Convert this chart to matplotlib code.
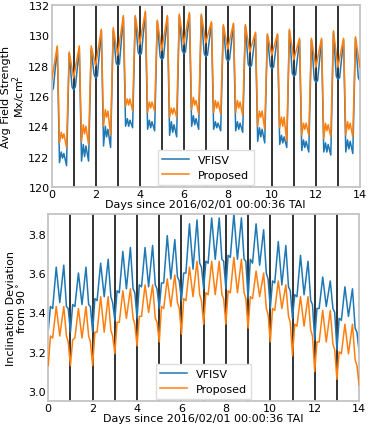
import matplotlib
matplotlib.use('Agg')
import matplotlib.pyplot as plt

# within-day sample phases (fraction of a day) for the values below
field_phase_vf = [0.0, 0.08, 0.26, 0.36, 0.44, 0.50, 0.56, 0.68, 0.80, 0.93]
field_phase_pr = [0.0, 0.26, 0.36, 0.44, 0.50, 0.56, 0.68, 0.80]
incl_phase = [0.0, 0.10, 0.20, 0.36, 0.52, 0.70, 0.82, 0.90]

# avg field strength, one row per day
field_vfisv = [
    [126.3, 126.5, 129.2, 121.6, 122.3, 121.9, 122.2, 121.4, 128.8, 126.6],
    [126.4, 126.6, 129.1, 121.7, 122.8, 122.0, 122.7, 121.7, 129.1, 127.4],
    [127.2, 127.3, 130.3, 122.7, 124.0, 123.3, 123.8, 122.6, 130.3, 128.2],
    [128.0, 128.1, 131.2, 124.0, 124.5, 124.0, 124.4, 123.9, 131.2, 128.9],
    [128.7, 128.8, 131.5, 123.8, 124.4, 123.9, 124.3, 123.7, 130.9, 128.6],
    [128.4, 128.5, 131.2, 123.4, 124.3, 123.6, 124.1, 123.3, 131.3, 129.0],
    [128.8, 128.9, 131.4, 124.0, 124.7, 124.1, 124.5, 123.8, 131.3, 128.8],
    [128.6, 128.7, 130.8, 123.8, 124.3, 123.9, 124.2, 123.7, 130.6, 128.5],
    [128.3, 128.4, 130.7, 123.7, 124.3, 123.8, 124.2, 123.6, 130.6, 128.1],
    [127.9, 128.0, 130.1, 123.0, 123.9, 123.3, 123.8, 122.9, 130.0, 128.0],
    [127.8, 127.9, 130.0, 122.8, 123.4, 122.9, 123.3, 122.6, 130.3, 127.5],
    [127.3, 127.4, 129.7, 122.4, 123.1, 122.6, 123.0, 122.3, 129.7, 127.1],
    [126.9, 127.0, 129.7, 122.3, 122.9, 122.3, 122.8, 122.1, 130.2, 127.3],
    [127.1, 127.2, 129.7, 122.3, 123.1, 122.5, 123.0, 122.2, 129.8, 127.2],
]
field_vfisv_end = 127.0

field_proposed = [
    [127.0, 129.3, 122.9, 123.6, 123.2, 123.5, 122.6, 128.9],
    [127.2, 129.3, 123.0, 124.1, 123.5, 124.0, 122.8, 129.3],
    [128.0, 130.4, 124.0, 125.1, 124.6, 125.0, 123.4, 130.5],
    [128.7, 131.3, 125.3, 125.8, 125.4, 125.8, 125.0, 131.3],
    [129.4, 131.6, 124.9, 125.6, 125.2, 125.6, 125.0, 131.0],
    [129.0, 131.3, 124.6, 125.2, 124.8, 125.2, 124.6, 131.4],
    [129.4, 131.5, 125.1, 125.9, 125.4, 125.7, 124.8, 131.4],
    [129.5, 130.9, 124.9, 125.7, 125.2, 125.6, 124.8, 130.7],
    [129.1, 130.8, 124.9, 125.7, 125.2, 125.6, 124.7, 130.7],
    [128.9, 130.2, 124.0, 125.0, 124.6, 125.0, 123.8, 130.1],
    [128.7, 130.1, 123.9, 124.6, 124.0, 124.6, 123.0, 130.4],
    [128.4, 129.8, 123.4, 124.2, 123.8, 124.2, 123.4, 129.8],
    [127.9, 129.8, 123.2, 124.2, 123.7, 124.1, 123.3, 130.3],
    [127.9, 129.8, 123.4, 124.3, 123.8, 124.2, 123.3, 129.9],
]
field_proposed_end = 127.9

# inclination deviation from 90 deg, one row per day
incl_vfisv = [
    [3.31, 3.43, 3.42, 3.63, 3.45, 3.64, 3.43, 3.42],
    [3.30, 3.44, 3.43, 3.60, 3.44, 3.63, 3.44, 3.43],
    [3.30, 3.47, 3.46, 3.65, 3.48, 3.67, 3.48, 3.45],
    [3.36, 3.51, 3.50, 3.71, 3.52, 3.73, 3.52, 3.50],
    [3.37, 3.54, 3.53, 3.73, 3.53, 3.74, 3.54, 3.52],
    [3.42, 3.55, 3.55, 3.79, 3.57, 3.77, 3.58, 3.56],
    [3.46, 3.60, 3.60, 3.85, 3.62, 3.87, 3.65, 3.63],
    [3.52, 3.66, 3.65, 3.88, 3.67, 3.88, 3.67, 3.66],
    [3.52, 3.69, 3.68, 3.90, 3.67, 3.88, 3.67, 3.66],
    [3.47, 3.67, 3.65, 3.85, 3.64, 3.82, 3.60, 3.57],
    [3.42, 3.56, 3.55, 3.76, 3.54, 3.74, 3.53, 3.51],
    [3.37, 3.49, 3.48, 3.69, 3.49, 3.66, 3.46, 3.44],
    [3.26, 3.42, 3.42, 3.58, 3.43, 3.56, 3.42, 3.40],
    [3.21, 3.37, 3.36, 3.53, 3.38, 3.52, 3.32, 3.30],
]
incl_vfisv_end = 3.20

incl_proposed = [
    [3.13, 3.28, 3.27, 3.43, 3.28, 3.43, 3.28, 3.25],
    [3.13, 3.26, 3.27, 3.42, 3.27, 3.43, 3.28, 3.25],
    [3.13, 3.30, 3.30, 3.48, 3.30, 3.48, 3.31, 3.28],
    [3.19, 3.35, 3.35, 3.51, 3.37, 3.52, 3.37, 3.34],
    [3.23, 3.38, 3.38, 3.54, 3.40, 3.54, 3.37, 3.35],
    [3.25, 3.43, 3.42, 3.57, 3.43, 3.59, 3.45, 3.42],
    [3.29, 3.47, 3.46, 3.63, 3.48, 3.66, 3.49, 3.46],
    [3.34, 3.50, 3.49, 3.66, 3.49, 3.66, 3.49, 3.47],
    [3.34, 3.51, 3.50, 3.68, 3.50, 3.67, 3.50, 3.47],
    [3.32, 3.48, 3.47, 3.61, 3.48, 3.60, 3.42, 3.39],
    [3.25, 3.42, 3.41, 3.56, 3.42, 3.54, 3.38, 3.35],
    [3.18, 3.34, 3.33, 3.48, 3.33, 3.48, 3.31, 3.28],
    [3.10, 3.25, 3.25, 3.41, 3.25, 3.41, 3.24, 3.21],
    [3.06, 3.20, 3.19, 3.34, 3.19, 3.34, 3.16, 3.13],
]
incl_proposed_end = 3.03

xticks = [0, 2, 4, 6, 8, 10, 12, 14]
xlabel = 'Days since 2016/02/01 00:00:36 TAI'
FS = 8


def build(rows, phases, end):
    t, v = [], []
    for d, row in enumerate(rows):
        for p, val in zip(phases, row):
            t.append(d + p)
            v.append(val)
    t.append(len(rows))
    v.append(end)
    return t, v


def style(ax):
    for s in ax.spines.values():
        s.set_color('#c4c4c4')
        s.set_linewidth(1.3)
    ax.tick_params(length=0, pad=1.5, labelsize=FS)
    for d in range(1, 14):
        ax.axvline(d, color='#222222', lw=1.3, zorder=1)
    ax.set_xlim(0, 14)
    ax.set_xticks(xticks)
    ax.set_xlabel(xlabel, fontsize=FS, labelpad=0)


fig = plt.figure(figsize=(3.71, 4.27), dpi=100)

ax1 = fig.add_axes([0.139, 0.560, 0.831, 0.426])
t, v = build(field_vfisv, field_phase_vf, field_vfisv_end)
ax1.plot(t, v, color='#1f77b4', lw=1.1, label='VFISV', zorder=2)
t, v = build(field_proposed, field_phase_pr, field_proposed_end)
ax1.plot(t, v, color='#ff7f0e', lw=1.1, label='Proposed', zorder=3)
ax1.set_ylim(120, 132)
ax1.set_yticks([120, 122, 124, 126, 128, 130, 132])
ax1.set_ylabel('Avg Field Strength\nMx/cm$^2$', fontsize=FS, labelpad=0,
               linespacing=1.0)
style(ax1)
ax1.legend(loc='lower center', fontsize=FS, fancybox=False, framealpha=1,
           edgecolor='#dddddd', borderpad=0.4, handlelength=2.4,
           borderaxespad=0.2)

ax2 = fig.add_axes([0.130, 0.0585, 0.838, 0.438])
t, v = build(incl_vfisv, incl_phase, incl_vfisv_end)
ax2.plot(t, v, color='#1f77b4', lw=1.1, label='VFISV', zorder=2)
t, v = build(incl_proposed, incl_phase, incl_proposed_end)
ax2.plot(t, v, color='#ff7f0e', lw=1.1, label='Proposed', zorder=3)
ax2.set_ylim(2.95, 3.9)
ax2.set_yticks([3.0, 3.2, 3.4, 3.6, 3.8])
ax2.set_ylabel('Inclination Deviation\nfrom 90$^\\circ$', fontsize=FS,
               labelpad=0, linespacing=1.0)
style(ax2)
ax2.legend(loc='lower center', fontsize=FS, fancybox=False, framealpha=1,
           edgecolor='#dddddd', borderpad=0.4, handlelength=2.4,
           borderaxespad=0.2)

fig.savefig('out.png', dpi=100)
